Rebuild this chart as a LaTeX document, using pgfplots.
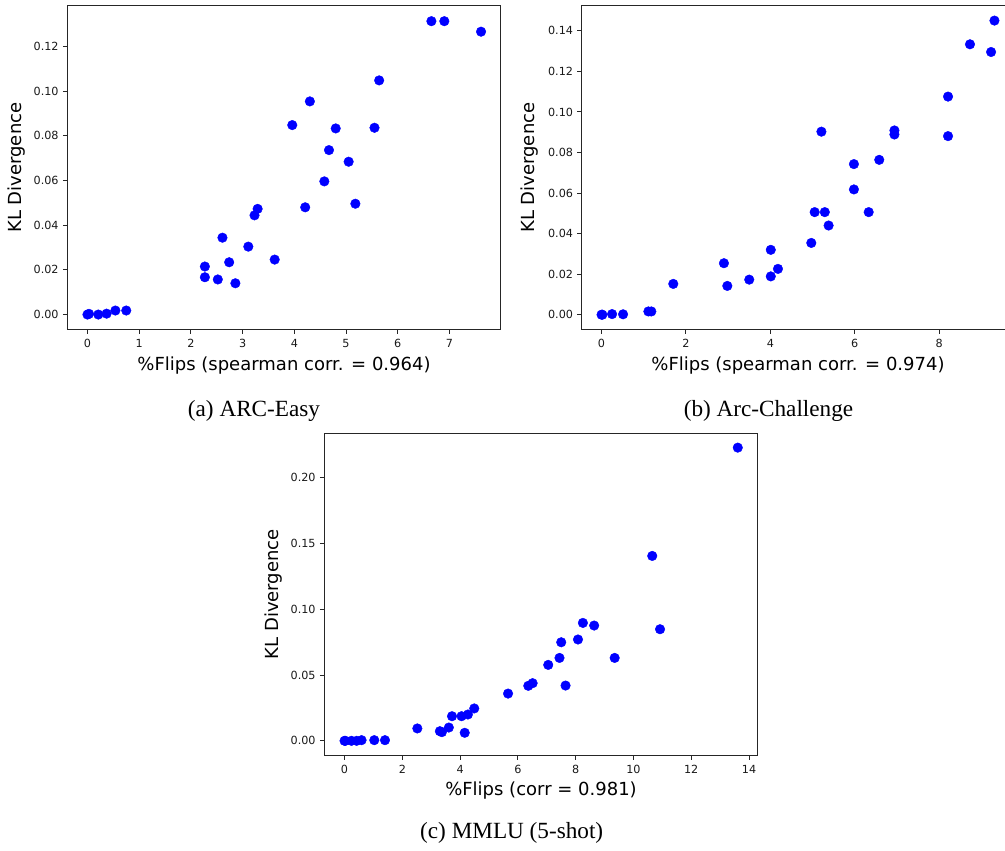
\documentclass[border=0pt]{standalone}
\usepackage{fontspec}
\setmainfont{Liberation Serif}
\newfontfamily\dejavu{DejaVu Sans}
\usepackage{pgfplots}
\pgfplotsset{compat=1.18}
\definecolor{mplblue}{RGB}{0,0,255}
\pgfplotsset{
  kl/.style={
    scale only axis, anchor=south west,
    axis line style={line width=1pt, black!85},
    every tick/.style={line width=1pt, black!85},
    tick align=outside, major tick length=4.5pt,
    xtick pos=bottom, ytick pos=left,
    /pgf/number format/assume math mode=true,
    scaled ticks=false,
    tick label style={font=\dejavu\fontsize{11.2}{13}\selectfont, text=black!90},
    xticklabel style={inner sep=0pt, anchor=north, yshift=-5.5pt},
    yticklabel style={inner sep=0pt, anchor=east, xshift=-4pt},
    every axis x label/.style={at={(axis description cs:0.5,-0.112)}, anchor=center, font=\dejavu\fontsize{18}{21}\selectfont},
    every axis y label/.style={at={(axis description cs:-0.1168,0.5)}, rotate=90, anchor=center, font=\dejavu\fontsize{18}{21}\selectfont},
    ylabel={KL Divergence},
  },
  pts/.style={only marks, mark=*, mark size=4.8pt, mark options={draw=mplblue, fill=mplblue}},
}
\begin{document}
\begin{tikzpicture}
\useasboundingbox (0,0) rectangle (1005pt,851pt);
% (a) ARC-Easy
\begin{axis}[kl, at={(67.3pt,521.7pt)}, width=433.4pt, height=323.3pt,
  xmin=-0.39, xmax=7.99, ymin=-0.0066, ymax=0.1381,
  xtick={0,1,...,7},
  ytick={0,0.02,0.04,0.06,0.08,0.10,0.12},
  yticklabels={0.00,0.02,0.04,0.06,0.08,0.10,0.12},
  xlabel={\%Flips (spearman corr. = 0.964)}]
\addplot[pts] table {
x y
0.00 0.0000
0.03 0.0003
0.21 0.0000
0.37 0.0004
0.54 0.0018
0.75 0.0018
2.27 0.0215
2.27 0.0167
2.52 0.0157
2.61 0.0344
2.74 0.0234
2.86 0.0140
3.11 0.0304
3.23 0.0444
3.29 0.0473
3.62 0.0246
3.96 0.0848
4.21 0.0480
4.30 0.0954
4.58 0.0596
4.67 0.0736
4.80 0.0833
5.05 0.0684
5.18 0.0496
5.55 0.0836
5.64 0.1048
6.65 0.1313
6.90 0.1313
7.61 0.1266
};
\end{axis}
% (b) Arc-Challenge
\begin{axis}[kl, at={(581.7pt,521.7pt)}, width=432.6pt, height=323.3pt,
  xmin=-0.47, xmax=9.78, ymin=-0.0072, ymax=0.1523,
  xtick={0,2,4,6,8},
  ytick={0,0.02,0.04,0.06,0.08,0.10,0.12,0.14},
  yticklabels={0.00,0.02,0.04,0.06,0.08,0.10,0.12,0.14},
  every axis y label/.style={at={(axis description cs:-0.1195,0.5)}, rotate=90, anchor=center, font=\dejavu\fontsize{18}{21}\selectfont},
  xlabel={\%Flips (spearman corr. = 0.974)}]
\addplot[pts] table {
x y
0.00 0.0000
0.02 0.0000
0.25 0.0003
0.51 0.0002
1.11 0.0016
1.18 0.0016
1.70 0.0152
2.90 0.0254
2.98 0.0142
3.50 0.0173
4.01 0.0320
4.01 0.0189
4.18 0.0226
4.97 0.0354
5.05 0.0506
5.21 0.0903
5.29 0.0506
5.38 0.0440
5.98 0.0743
5.98 0.0618
6.33 0.0506
6.58 0.0764
6.94 0.0909
6.94 0.0889
8.21 0.1076
8.21 0.0881
8.73 0.1334
9.23 0.1296
9.31 0.1451
};
\end{axis}
% (c) MMLU
\begin{axis}[kl, at={(324.3pt,95.7pt)}, width=433.4pt, height=322pt,
  xmin=-0.70, xmax=14.30, ymin=-0.0110, ymax=0.2337,
  xtick={0,2,...,14},
  ytick={0,0.05,0.10,0.15,0.20},
  yticklabels={0.00,0.05,0.10,0.15,0.20},
  every axis x label/.style={at={(axis description cs:0.5,-0.109)}, anchor=center, font=\dejavu\fontsize{18}{21}\selectfont},
  every axis y label/.style={at={(axis description cs:-0.1177,0.5)}, rotate=90, anchor=center, font=\dejavu\fontsize{18}{21}\selectfont},
  xlabel={\%Flips (corr = 0.981)}]
\addplot[pts] table {
x y
0.00 0.0000
0.03 0.0000
0.24 0.0000
0.42 0.0000
0.59 0.0005
1.03 0.0005
1.40 0.0005
2.52 0.0094
3.30 0.0073
3.37 0.0066
3.61 0.0101
3.72 0.0187
4.05 0.0187
4.16 0.0061
4.27 0.0200
4.49 0.0246
5.66 0.0359
6.36 0.0418
6.51 0.0438
7.05 0.0577
7.44 0.0630
7.50 0.0749
7.65 0.0420
8.08 0.0770
8.25 0.0896
8.64 0.0876
9.35 0.0630
10.65 0.1405
10.92 0.0848
13.61 0.2228
};
\end{axis}
\node[font=\fontsize{23.2}{27}\selectfont] at (254pt,440.5pt) {(a) ARC-Easy};
\node[font=\fontsize{23.2}{27}\selectfont] at (768.5pt,440.5pt) {(b) Arc-Challenge};
\node[font=\fontsize{23.2}{27}\selectfont] at (511.7pt,18.5pt) {(c) MMLU (5-shot)};
\end{tikzpicture}
\end{document}
